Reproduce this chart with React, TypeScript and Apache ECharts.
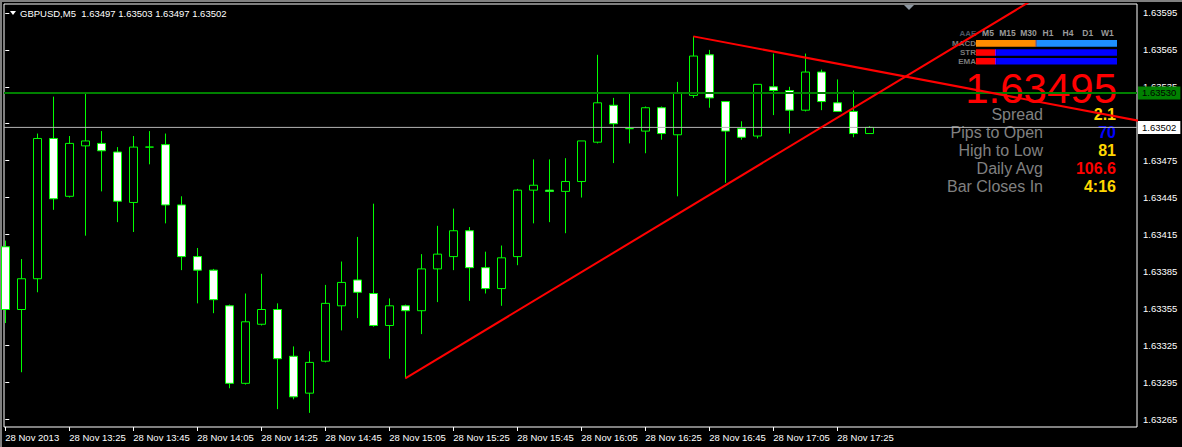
import React, { useEffect, useRef } from "react";
import * as echarts from "echarts";

// ---- data ----
const chartTitle = "GBPUSD,M5  1.63497 1.63503 1.63497 1.63502";

const opens = [
  1.63405, 1.63354, 1.63379, 1.63493, 1.63446, 1.63487, 1.63489, 1.63482, 1.63441, 1.63486,
  1.63488, 1.63439, 1.63397, 1.63386, 1.63357, 1.63294, 1.63342, 1.63354, 1.63316, 1.63286,
  1.63312, 1.63357, 1.63378, 1.63367, 1.63341, 1.63357, 1.63353, 1.63387, 1.63397, 1.63418,
  1.63388, 1.63371, 1.63397, 1.63451, 1.63451, 1.6345, 1.63458, 1.6349, 1.6352, 1.63501,
  1.63499, 1.63518, 1.63496, 1.63528, 1.63561, 1.63523, 1.63501, 1.63495, 1.63535, 1.63532,
  1.63516, 1.63547, 1.63522, 1.63515, 1.63497,
];
const highs = [
  1.6341, 1.63395, 1.63497, 1.63527, 1.63495, 1.6353, 1.63499, 1.63486, 1.63495, 1.63499,
  1.63497, 1.63446, 1.63404, 1.63387, 1.63358, 1.63367, 1.63383, 1.63359, 1.63324, 1.6332,
  1.63374, 1.63393, 1.63413, 1.6344, 1.63363, 1.63358, 1.63399, 1.63422, 1.63436, 1.63421,
  1.63401, 1.63406, 1.63452, 1.63476, 1.63476, 1.63477, 1.63491, 1.63561, 1.63526, 1.6353,
  1.63519, 1.63519, 1.63539, 1.63576, 1.63565, 1.63523, 1.63507, 1.63537, 1.63562, 1.63535,
  1.63562, 1.63549, 1.63541, 1.63532, 1.63503,
];
const lows = [
  1.63343, 1.63303, 1.63368, 1.63435, 1.63445, 1.63414, 1.6345, 1.63425, 1.63417, 1.63472,
  1.63424, 1.63386, 1.63359, 1.63351, 1.6329, 1.63293, 1.63341, 1.63273, 1.63281, 1.6327,
  1.63311, 1.63337, 1.63347, 1.6334, 1.63314, 1.63298, 1.63334, 1.6336, 1.63386, 1.63361,
  1.63367, 1.63357, 1.6339, 1.63424, 1.63425, 1.63416, 1.63445, 1.63489, 1.63473, 1.63489,
  1.63481, 1.63492, 1.63446, 1.63526, 1.63518, 1.63457, 1.63492, 1.63493, 1.63512, 1.63497,
  1.63515, 1.63516, 1.63515, 1.63494, 1.63497,
];
const closes = [
  1.63354, 1.63379, 1.63493, 1.63444, 1.63489, 1.63491, 1.63483, 1.63442, 1.63486, 1.63486,
  1.63439, 1.63397, 1.63386, 1.63362, 1.63294, 1.63344, 1.63354, 1.63314, 1.63283, 1.63311,
  1.63359, 1.63376, 1.63368, 1.63341, 1.63357, 1.63353, 1.63387, 1.63399, 1.63418, 1.63388,
  1.63371, 1.63396, 1.63451, 1.63455, 1.6345, 1.63458, 1.63491, 1.63522, 1.63505, 1.63501,
  1.63518, 1.63497, 1.6353, 1.6356, 1.63526, 1.63499, 1.63494, 1.63537, 1.63532, 1.63516,
  1.63547, 1.63523, 1.63515, 1.63497, 1.63502,
];

const xTickIndex = [0, 4, 8, 12, 16, 20, 24, 28, 32, 36, 40, 44, 48, 52];
const xTickLabels = [
  "28 Nov 2013", "28 Nov 13:25", "28 Nov 13:45", "28 Nov 14:05", "28 Nov 14:25",
  "28 Nov 14:45", "28 Nov 15:05", "28 Nov 15:25", "28 Nov 15:45", "28 Nov 16:05",
  "28 Nov 16:25", "28 Nov 16:45", "28 Nov 17:05", "28 Nov 17:25",
];
const yTickValues = [
  1.63595, 1.63565, 1.63535, 1.63505, 1.63475, 1.63445, 1.63415, 1.63385,
  1.63355, 1.63325, 1.63295, 1.63265,
];

const askLevel = 1.6353;
const bidLevel = 1.63502;
const trendUp = [[25, 1.63298], [64, 1.63604]];
const trendDown = [[43, 1.63576], [71, 1.63507]];

const timeframes = ["M5", "M15", "M30", "H1", "H4", "D1", "W1"];
const indicatorRows = ["MACD", "STR", "EMA"];
const bigPrice = "1.63495";
const statLabels = ["Spread", "Pips to Open", "High to Low", "Daily Avg", "Bar Closes In"];
const statValues = ["2.1", "70", "81", "106.6", "4:16"];

const X_MIN = -0.081;
const X_MAX = 70.73;

export default function App() {
  const ref = useRef<HTMLDivElement>(null);
  useEffect(() => {
    if (!ref.current) return;
    const chart = echarts.init(ref.current, null, { renderer: "svg" });
    const font = "Liberation Sans";
    const candleData = opens.map((o, i) => [i, o, closes[i], lows[i], highs[i]]);

    const tfX = [988, 1007.5, 1028.5, 1048, 1068, 1087.7, 1107.3];
    const rowY = [43.3, 52.5, 61.2];
    const statY = [114, 132, 150, 168, 186];
    const statColors = ["#ffd700", "#0000ff", "#ffd700", "#ff0000", "#ffd700"];

    const graphics: any[] = [];
    graphics.push({ type: "rect", z: 1, shape: { x: 0, y: 0, width: 1182, height: 2 }, style: { fill: "#808080" } });
    graphics.push({ type: "rect", z: 1, shape: { x: 0, y: 0, width: 2, height: 447 }, style: { fill: "#808080" } });
    graphics.push({ type: "polygon", z: 1, shape: { points: [[10, 11], [16, 11], [13, 15]] }, style: { fill: "#ffffff" } });
    graphics.push({
      type: "text", z: 1, x: 20, y: 13,
      style: { text: chartTitle, fill: "#ffffff", font: `9.5px '${font}'`, textAlign: "left", textVerticalAlign: "middle" },
    });
    graphics.push({ type: "polygon", z: 1, shape: { points: [[904, 5], [914, 5], [909, 10]] }, style: { fill: "#8c96a0" } });
    graphics.push({
      type: "text", z: 1, x: 968, y: 33,
      style: { text: "AAE", fill: "#4a5460", font: `bold 8px '${font}'`, textAlign: "center", textVerticalAlign: "middle" },
    });
    timeframes.forEach((t, i) => {
      graphics.push({
        type: "text", z: 1, x: tfX[i], y: 33,
        style: { text: t, fill: "#9a9a9a", font: `bold 8.5px '${font}'`, textAlign: "center", textVerticalAlign: "middle" },
      });
    });
    indicatorRows.forEach((r, i) => {
      graphics.push({
        type: "text", z: 1, x: 976, y: rowY[i],
        style: { text: r, fill: "#7a7a7a", font: `bold 8px '${font}'`, textAlign: "right", textVerticalAlign: "middle" },
      });
    });
    const bar = (x: number, y: number, w: number, h: number, c: string) =>
      graphics.push({ type: "rect", z: 1, shape: { x, y, width: w, height: h }, style: { fill: c } });
    bar(976, 40, 59.5, 6.7, "#ff8c00");
    bar(1035.5, 40, 1, 6.7, "#ff9090");
    bar(1036.5, 40, 80.5, 6.7, "#1e90ff");
    bar(976, 49.3, 19, 6.5, "#ff0000");
    bar(995, 49.3, 1.2, 6.5, "#8000ff");
    bar(996.2, 49.3, 120.8, 6.5, "#0000ff");
    bar(976, 58, 19, 6.5, "#ff0000");
    bar(995, 58, 1.2, 6.5, "#8000ff");
    bar(996.2, 58, 120.8, 6.5, "#0000ff");
    graphics.push({
      type: "text", z: 1, x: 1117, y: 88.5,
      style: {
        text: bigPrice, fill: "#ff0000", font: `42px '${font}'`, lineHeight: 30,
        textAlign: "right", textVerticalAlign: "middle",
      },
    });
    statLabels.forEach((s, i) => {
      graphics.push({
        type: "text", z: 1, x: 1043, y: statY[i],
        style: { text: s, fill: "#808080", font: `16px '${font}'`, lineHeight: 16, textAlign: "right", textVerticalAlign: "middle" },
      });
      graphics.push({
        type: "text", z: 1, x: 1116, y: statY[i],
        style: {
          text: statValues[i], fill: statColors[i], font: `bold 16px '${font}'`, lineHeight: 16,
          textAlign: "right", textVerticalAlign: "middle",
        },
      });
    });

    const levelSeries = (level: number, color: string, width: number, tagBg: string) => ({
      type: "line",
      data: [[X_MIN, level], [X_MAX, level]],
      showSymbol: false,
      clip: false,
      z: 5,
      silent: true,
      lineStyle: { color, width, type: "solid" },
      endLabel: {
        show: true,
        distance: 1,
        formatter: () => level.toFixed(5),
        color: "#000000",
        backgroundColor: tagBg,
        padding: [2, 4, 1, 4],
        fontFamily: font,
        fontSize: 9.5,
      },
    });

    chart.setOption({
      animation: false,
      backgroundColor: "#000000",
      textStyle: { fontFamily: font },
      grid: {
        left: 4, right: 45, top: 4, bottom: 20,
        show: true, backgroundColor: "#000000", borderColor: "#ffffff", borderWidth: 1,
      },
      xAxis: {
        type: "value",
        min: X_MIN,
        max: X_MAX,
        axisLine: { show: false },
        splitLine: { show: false },
        axisTick: { show: true, length: 4, customValues: xTickIndex, lineStyle: { color: "#ffffff" } },
        axisLabel: {
          show: true,
          customValues: xTickIndex,
          formatter: (v: number) => {
            const i = xTickIndex.indexOf(Math.round(v));
            return i >= 0 ? xTickLabels[i] : "";
          },
          align: "left",
          color: "#ffffff",
          fontSize: 9.5,
          fontFamily: font,
          margin: 5,
        },
      },
      yAxis: {
        type: "value",
        position: "right",
        min: 1.632585,
        max: 1.636023,
        axisLine: { show: false },
        splitLine: { show: false },
        axisTick: { show: true, length: 4, customValues: yTickValues, lineStyle: { color: "#ffffff" } },
        axisLabel: {
          show: true,
          customValues: yTickValues,
          formatter: (v: number) => v.toFixed(5),
          color: "#ffffff",
          fontSize: 9.5,
          fontFamily: font,
          margin: 6,
        },
      },
      graphic: { elements: graphics },
      series: [
        {
          type: "candlestick",
          data: candleData,
          encode: { x: 0, y: [1, 2, 3, 4] },
          barWidth: 9,
          clip: true,
          itemStyle: {
            color: "#000000",
            color0: "#ffffff",
            borderColor: "#00ff00",
            borderColor0: "#00ff00",
            borderColorDoji: "#00ff00",
            borderWidth: 1,
          },
        },
        levelSeries(askLevel, "#008000", 2, "#008000"),
        levelSeries(bidLevel, "#b4b4b4", 1, "#ffffff"),
        {
          type: "line",
          data: trendUp,
          showSymbol: false,
          clip: true,
          z: 6,
          lineStyle: { color: "#ff0000", width: 2 },
        },
        {
          type: "line",
          data: trendDown,
          showSymbol: false,
          clip: true,
          z: 6,
          lineStyle: { color: "#ff0000", width: 2 },
        },
      ],
    });
    return () => chart.dispose();
  }, []);
  return (
    <div
      ref={ref}
      style={{ position: "fixed", left: 0, top: 0, width: 1182, height: 447, background: "#000" }}
    />
  );
}
